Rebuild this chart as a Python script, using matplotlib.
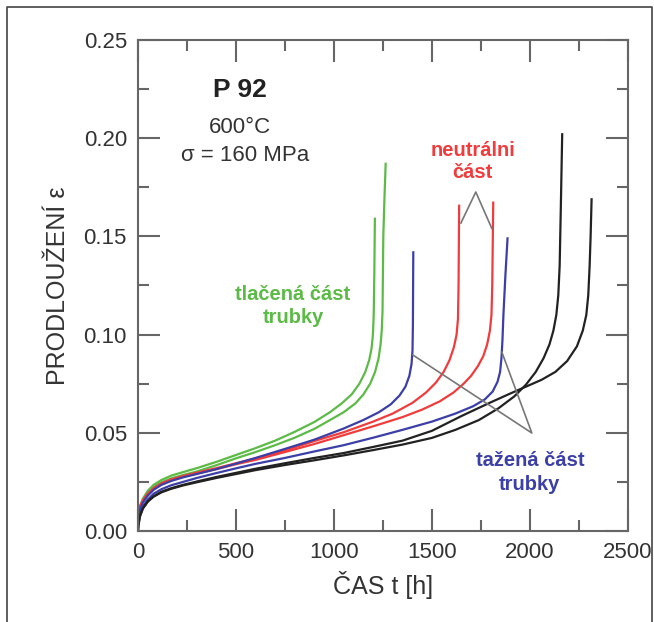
import numpy as np
import matplotlib
matplotlib.use('Agg')
import matplotlib.pyplot as plt
from matplotlib.lines import Line2D
from matplotlib.ticker import MultipleLocator

plt.rcParams['font.family'] = ['Liberation Sans', 'DejaVu Sans']

# krivky tecení (čas [h], prodloužení)
t_green1 = [0, 3, 10, 25, 50, 80, 120, 170, 230, 300, 400, 500, 600, 700, 800, 900, 980, 1040, 1090, 1130, 1160, 1180, 1192, 1199, 1203, 1206, 1209]
e_green1 = [0.006, 0.009, 0.0125, 0.0165, 0.0205, 0.0235, 0.026, 0.0282, 0.030, 0.032, 0.0352, 0.0387, 0.0422, 0.046, 0.0505, 0.0555, 0.0605, 0.065, 0.0695, 0.075, 0.081, 0.087, 0.093, 0.100, 0.110, 0.130, 0.159]

t_green2 = [0, 3, 10, 25, 50, 80, 120, 170, 230, 300, 400, 500, 600, 700, 800, 900, 980, 1050, 1110, 1150, 1185, 1210, 1228, 1238, 1244, 1248, 1252, 1258, 1264]
e_green2 = [0.005, 0.008, 0.0115, 0.0155, 0.0195, 0.0225, 0.0248, 0.0268, 0.0285, 0.0303, 0.0335, 0.037, 0.0402, 0.0437, 0.0475, 0.052, 0.0565, 0.0605, 0.065, 0.0695, 0.075, 0.081, 0.088, 0.095, 0.102, 0.112, 0.150, 0.170, 0.187]

t_red1 = [0, 3, 10, 25, 50, 80, 120, 170, 230, 300, 400, 500, 600, 750, 900, 1050, 1200, 1300, 1400, 1470, 1520, 1560, 1590, 1612, 1626, 1633, 1636, 1639]
e_red1 = [0.008, 0.010, 0.0125, 0.0155, 0.019, 0.0218, 0.0243, 0.0263, 0.028, 0.0297, 0.032, 0.0345, 0.037, 0.041, 0.0458, 0.0503, 0.0557, 0.0598, 0.0652, 0.0705, 0.0755, 0.081, 0.087, 0.0935, 0.100, 0.108, 0.125, 0.1656]

t_red2 = [0, 3, 10, 25, 50, 80, 120, 170, 230, 300, 400, 500, 600, 750, 900, 1050, 1200, 1350, 1450, 1540, 1610, 1660, 1700, 1735, 1762, 1782, 1796, 1804, 1808, 1813]
e_red2 = [0.008, 0.010, 0.0125, 0.0155, 0.019, 0.0216, 0.024, 0.026, 0.0277, 0.0293, 0.0315, 0.034, 0.0362, 0.0402, 0.0443, 0.0488, 0.0533, 0.058, 0.0618, 0.066, 0.0705, 0.0748, 0.079, 0.084, 0.089, 0.095, 0.102, 0.110, 0.125, 0.1672]

t_blue1 = [0, 3, 10, 25, 50, 80, 120, 170, 230, 300, 400, 500, 600, 750, 900, 1050, 1150, 1230, 1290, 1335, 1365, 1385, 1396, 1401, 1403, 1405]
e_blue1 = [0.005, 0.0075, 0.011, 0.0145, 0.018, 0.021, 0.0235, 0.0255, 0.0273, 0.029, 0.0315, 0.0343, 0.0372, 0.0418, 0.0465, 0.0522, 0.0565, 0.0605, 0.0645, 0.069, 0.0735, 0.079, 0.085, 0.092, 0.105, 0.1419]

t_blue2 = [0, 3, 10, 25, 50, 80, 120, 170, 230, 300, 400, 500, 600, 750, 900, 1050, 1200, 1350, 1500, 1620, 1710, 1770, 1810, 1835, 1848, 1855, 1860, 1865, 1875, 1886]
e_blue2 = [0.004, 0.006, 0.009, 0.0125, 0.016, 0.019, 0.0213, 0.0233, 0.025, 0.027, 0.0295, 0.0319, 0.0342, 0.0372, 0.0405, 0.0437, 0.0475, 0.0515, 0.0557, 0.0598, 0.0635, 0.067, 0.071, 0.076, 0.081, 0.088, 0.097, 0.110, 0.130, 0.149]

t_black1 = [0, 3, 10, 25, 50, 80, 120, 170, 230, 300, 400, 500, 600, 750, 900, 1050, 1200, 1350, 1500, 1620, 1740, 1840, 1920, 1980, 2030, 2070, 2100, 2120, 2135, 2145, 2152, 2158, 2165]
e_black1 = [0.0, 0.0035, 0.0075, 0.0115, 0.015, 0.0175, 0.0197, 0.0215, 0.0232, 0.0248, 0.027, 0.029, 0.031, 0.0336, 0.036, 0.0385, 0.0412, 0.044, 0.0474, 0.0515, 0.0565, 0.0625, 0.0685, 0.0745, 0.081, 0.088, 0.095, 0.102, 0.110, 0.120, 0.135, 0.165, 0.202]

t_black2 = [0, 3, 10, 25, 50, 80, 120, 170, 230, 300, 400, 500, 600, 750, 900, 1050, 1200, 1350, 1500, 1650, 1800, 1900, 1980, 2060, 2130, 2190, 2240, 2270, 2288, 2298, 2305, 2310, 2315]
e_black2 = [0.0, 0.0035, 0.0075, 0.0115, 0.015, 0.0177, 0.020, 0.0218, 0.0235, 0.0252, 0.0275, 0.0296, 0.0317, 0.0345, 0.0372, 0.0397, 0.0428, 0.046, 0.051, 0.0585, 0.0655, 0.070, 0.0735, 0.077, 0.081, 0.0865, 0.094, 0.102, 0.110, 0.120, 0.135, 0.150, 0.1689]

# odkazové čáry k popiskům
neutral_t = [1648, 1724, 1806]
neutral_e = [0.1568, 0.1726, 0.154]
tah_t = [1403, 2010, 1857]
tah_e = [0.0896, 0.0499, 0.0911]

c_green = '#5cba47'
c_red = '#f03c3c'
c_blue = '#3b3fa6'
c_black = '#222222'
c_axis = '#666666'

fig = plt.figure(figsize=(6.54, 6.22), dpi=100)
ax = fig.add_axes([0.211, 0.1463, 0.749, 0.7894])

lw = 1.6
curves = [(t_green1, e_green1, c_green), (t_green2, e_green2, c_green),
          (t_red1, e_red1, c_red), (t_red2, e_red2, c_red),
          (t_blue1, e_blue1, c_blue), (t_blue2, e_blue2, c_blue),
          (t_black1, e_black1, c_black), (t_black2, e_black2, c_black)]
for t, e, c in curves:
    ax.plot(t, e, color=c, lw=lw, solid_joinstyle='round')

ax.plot(neutral_t, neutral_e, color='#777777', lw=1.2)
ax.plot(tah_t, tah_e, color='#777777', lw=1.2)

ax.set_xlim(0, 2500)
ax.set_ylim(0, 0.25)
ax.xaxis.set_major_locator(MultipleLocator(500))
ax.xaxis.set_minor_locator(MultipleLocator(250))
ax.yaxis.set_major_locator(MultipleLocator(0.05))
ax.yaxis.set_minor_locator(MultipleLocator(0.025))
ax.yaxis.set_major_formatter(plt.FuncFormatter(lambda v, p: '%.2f' % v))

ax.tick_params(which='both', direction='in', top=True, right=True,
               color=c_axis, width=1.5, labelcolor='#333333', labelsize=16)
ax.tick_params(which='major', length=16)
ax.tick_params(which='minor', length=8)
ax.tick_params(axis='x', pad=8)
ax.tick_params(axis='y', pad=8)
for s in ax.spines.values():
    s.set_color(c_axis)
    s.set_linewidth(1.5)

ax.set_xlabel('ČAS t [h]', fontsize=18, color='#333333', labelpad=6)
ax.set_ylabel('PRODLOUŽENÍ ε', fontsize=18, color='#333333', labelpad=10)

ax.text(520, 0.2245, 'P 92', fontsize=19, fontweight='bold', color='#222222', ha='center', va='center')
ax.text(520, 0.2057, '600°C', fontsize=16, color='#333333', ha='center', va='center')
ax.text(546, 0.1914, 'σ = 160 MPa', fontsize=16, color='#333333', ha='center', va='center')

ax.text(791, 0.1146, 'tlačená část\ntrubky', fontsize=14.5, fontweight='bold', color=c_green,
        ha='center', va='center', linespacing=1.3)
ax.text(1709, 0.1879, 'neutrálni\nčást', fontsize=14.5, fontweight='bold', color=c_red,
        ha='center', va='center', linespacing=1.2)
ax.text(2000, 0.0298, 'tažená část\ntrubky', fontsize=14.5, fontweight='bold', color=c_blue,
        ha='center', va='center', linespacing=1.3)

# rámeček kolem obrázku
fx0, fx1, fy1 = 7 / 654, 652 / 654, 1 - 7 / 622
fig.add_artist(Line2D([fx0, fx0, fx1, fx1], [0, fy1, fy1, 0], transform=fig.transFigure,
                      color='#444444', lw=1.2))

fig.savefig('out.png', dpi=100)
